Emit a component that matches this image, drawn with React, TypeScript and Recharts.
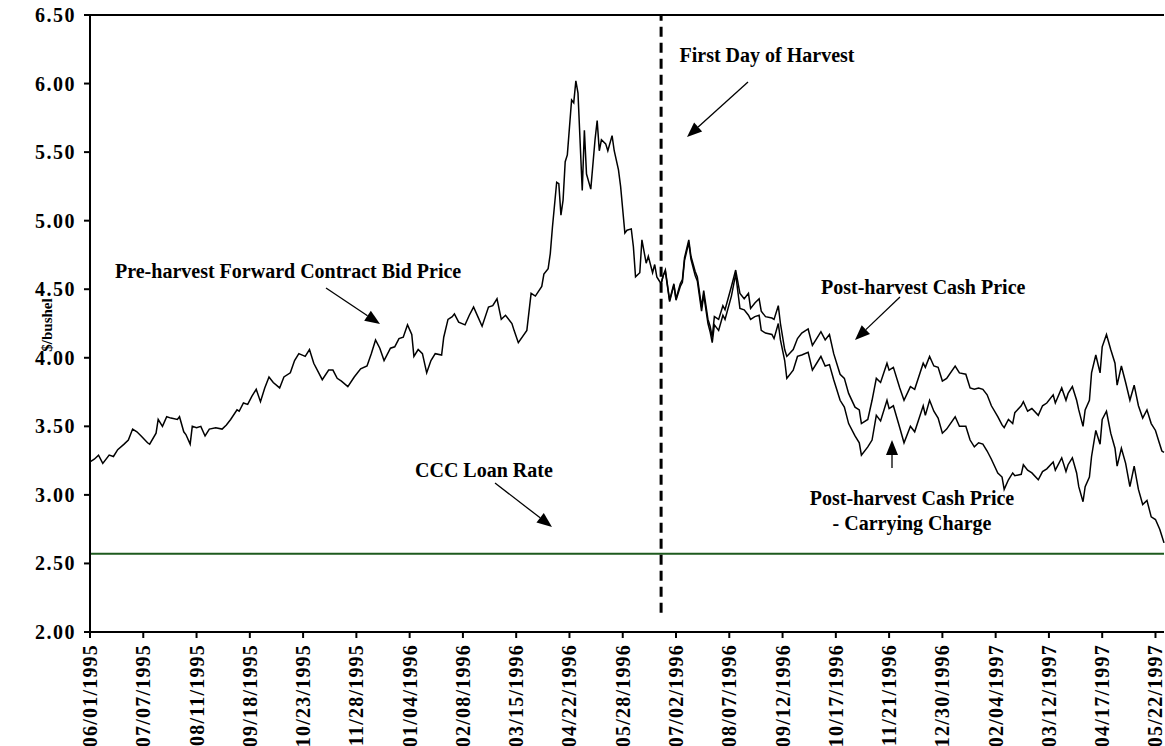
import { LineChart, Line, XAxis, YAxis, ReferenceLine } from 'recharts';

// trading-day index (0 = 06/01/1995), one tick label every 25 trading days
const tickLabels = [
    '06/01/1995', '07/07/1995', '08/11/1995', '09/18/1995', '10/23/1995', '11/28/1995',
    '01/04/1996', '02/08/1996', '03/15/1996', '04/22/1996', '05/28/1996', '07/02/1996',
    '08/07/1996', '09/12/1996', '10/17/1996', '11/21/1996', '12/30/1996', '02/04/1997',
    '03/12/1997', '04/17/1997', '05/22/1997',
];
const yTicks = [2, 2.5, 3, 3.5, 4, 4.5, 5, 5.5, 6, 6.5];

const loanRate = 2.57;
const harvestDay = 268;

// pre-harvest forward contract bid price
const preDay = [
    0, 2, 4, 6, 9, 11, 13, 16, 18, 20, 22, 24, 27, 28, 31, 32, 34, 36, 38, 41, 42, 44, 45, 47, 48,
    50, 52, 54, 56, 59, 62, 64, 66, 69, 70, 72, 74, 76, 78, 80, 82, 84, 86, 89, 91, 94, 96, 98,
    101, 103, 105, 109, 112, 114, 116, 118, 121, 124, 127, 130, 132, 134, 136, 138, 141, 143, 145,
    147, 149, 151, 152, 154, 156, 158, 160, 162, 165, 166, 168, 170, 171, 173, 176, 178, 180, 182,
    184, 187, 189, 191, 193, 195, 198, 199, 201, 205, 207, 209, 212, 213, 215, 216, 217, 219, 220,
    221, 222, 223, 224, 226, 227, 228, 229, 231, 232, 233, 235, 237, 238, 239, 240, 242, 243, 245,
    246, 248, 249, 250, 251, 252, 254, 255, 256, 258, 259, 261, 262, 264, 265, 266, 268,
];
const prePrice = [
    3.24, 3.26, 3.29, 3.23, 3.29, 3.28, 3.33, 3.37, 3.40, 3.48, 3.46, 3.43, 3.38, 3.37, 3.45, 3.55, 3.50, 3.57, 3.56, 3.55, 3.57, 3.46, 3.44, 3.37, 3.50,
    3.49, 3.50, 3.43, 3.48, 3.49, 3.48, 3.51, 3.55, 3.62, 3.61, 3.67, 3.66, 3.72, 3.77, 3.68, 3.78, 3.86, 3.82, 3.78, 3.86, 3.89, 3.98, 4.03,
    4.01, 4.06, 3.96, 3.84, 3.91, 3.91, 3.85, 3.83, 3.79, 3.86, 3.92, 3.94, 4.03, 4.13, 4.07, 3.98, 4.07, 4.08, 4.14,
    4.15, 4.24, 4.17, 4.01, 4.06, 4.03, 3.89, 3.98, 4.03, 4.02, 4.15, 4.28, 4.30, 4.32, 4.26, 4.24, 4.31, 4.37, 4.30,
    4.23, 4.37, 4.38, 4.43, 4.28, 4.31, 4.25, 4.20, 4.11, 4.20, 4.47, 4.45, 4.52, 4.61, 4.65, 4.76, 4.95, 5.28, 5.27,
    5.04, 5.15, 5.43, 5.48, 5.88, 5.86, 6.02, 5.93, 5.22, 5.66, 5.34, 5.23, 5.59, 5.73, 5.51, 5.59, 5.56, 5.51, 5.62,
    5.51, 5.37, 5.25, 5.08, 4.91, 4.93, 4.94, 4.81, 4.59, 4.62, 4.86, 4.69, 4.74, 4.62, 4.68, 4.59, 4.54,
];

// post-harvest cash price and cash price minus carrying charge
const postDay = [
    268, 269, 270, 272, 274, 275, 277, 278, 279, 281, 282, 284, 285, 287, 288, 290, 291, 292,
    293, 295, 297, 298, 301, 303, 305, 307, 309, 310, 312, 314, 315, 317, 320, 321, 323, 324,
    326, 327, 330, 332, 334, 337, 339, 341, 343, 345, 347, 349, 352, 354, 356, 359, 361, 362,
    365, 367, 369, 371, 374, 375, 377, 380, 382, 385, 387, 391, 392, 394, 396, 398, 400, 402,
    406, 408, 411, 413, 415, 417, 419, 421, 423, 426, 428, 429, 431, 433, 434, 437, 438, 440,
    442, 445, 447, 449, 452, 453, 456, 458, 459, 461, 463, 464, 466, 467, 469, 470, 472, 474,
    475, 477, 479, 481, 482, 484, 486, 488, 490, 492, 494, 496, 498, 500, 502, 503, 504,
];
const postCash = [
    4.54, 4.60, 4.64, 4.42, 4.54, 4.43, 4.54, 4.57, 4.73, 4.86, 4.74, 4.63, 4.59, 4.37, 4.49, 4.28, 4.23, 4.15,
    4.30, 4.28, 4.38, 4.35, 4.52, 4.64, 4.47, 4.43, 4.47, 4.36, 4.40, 4.43, 4.34, 4.30, 4.29, 4.28, 4.38, 4.25,
    4.06, 4.01, 4.06, 4.14, 4.18, 4.21, 4.09, 4.14, 4.19, 4.13, 4.17, 4.03, 3.88, 3.85, 3.74, 3.64, 3.62, 3.52,
    3.55, 3.69, 3.85, 3.82, 3.96, 3.91, 3.93, 3.78, 3.69, 3.79, 3.77, 3.96, 3.93, 4.01, 3.94, 3.93, 3.83, 3.85,
    3.94, 3.89, 3.88, 3.78, 3.77, 3.78, 3.77, 3.73, 3.65, 3.57, 3.51, 3.49, 3.55, 3.52, 3.60, 3.65, 3.68, 3.61,
    3.63, 3.58, 3.65, 3.67, 3.73, 3.67, 3.78, 3.69, 3.74, 3.79, 3.69, 3.62, 3.50, 3.62, 3.69, 3.89, 4.02, 3.89,
    4.08, 4.17, 4.06, 3.96, 3.80, 3.94, 3.82, 3.69, 3.80, 3.65, 3.56, 3.62, 3.52, 3.47, 3.37, 3.32, 3.31,
];
const postNet = [
    4.54, 4.60, 4.63, 4.41, 4.53, 4.42, 4.52, 4.55, 4.71, 4.84, 4.72, 4.60, 4.56, 4.34, 4.46, 4.25, 4.19, 4.11,
    4.24, 4.20, 4.31, 4.28, 4.45, 4.61, 4.36, 4.35, 4.31, 4.28, 4.30, 4.31, 4.20, 4.18, 4.17, 4.14, 4.25, 4.13,
    3.98, 3.85, 3.91, 4.01, 4.02, 4.04, 3.91, 3.96, 4.01, 3.94, 3.95, 3.84, 3.69, 3.64, 3.52, 3.43, 3.38, 3.29,
    3.35, 3.40, 3.58, 3.54, 3.69, 3.63, 3.65, 3.49, 3.38, 3.50, 3.46, 3.65, 3.58, 3.69, 3.61, 3.56, 3.45, 3.48,
    3.57, 3.50, 3.50, 3.40, 3.35, 3.38, 3.37, 3.32, 3.26, 3.16, 3.13, 3.04, 3.11, 3.16, 3.14, 3.15, 3.22, 3.18,
    3.16, 3.11, 3.17, 3.19, 3.24, 3.18, 3.27, 3.17, 3.22, 3.27, 3.16, 3.06, 2.95, 3.06, 3.13, 3.28, 3.47, 3.37,
    3.55, 3.61, 3.45, 3.34, 3.21, 3.34, 3.23, 3.06, 3.21, 3.04, 2.93, 2.96, 2.84, 2.82, 2.75, 2.70, 2.65,
];

const preData = preDay.map((d, i) => ({ day: d, price: prePrice[i] }));
const cashData = postDay.map((d, i) => ({ day: d, price: postCash[i] }));
const netData = postDay.map((d, i) => ({ day: d, price: postNet[i] }));

const font = '"Liberation Serif", "Times New Roman", serif';

const DateTick = (props: any) => {
    const { x, y, payload } = props;
    const ty = y + 4;
    return (
        <text
            x={x}
            y={ty}
            transform={`rotate(-90, ${x}, ${ty})`}
            textAnchor="end"
            dy="0.35em"
            fontFamily={font}
            fontWeight="bold"
            fontSize={20}
            letterSpacing={1.2}
            fill="#000"
        >
            {tickLabels[Math.round(payload.value / 25)]}
        </text>
    );
};

const PriceTick = (props: any) => {
    const { x, y, payload } = props;
    return (
        <text
            x={x}
            y={y}
            textAnchor="end"
            dy="0.35em"
            fontFamily={font}
            fontWeight="bold"
            fontSize={20}
            letterSpacing={1.5}
            fill="#000"
        >
            {payload.value.toFixed(2)}
        </text>
    );
};

const Arrow = ({ x1, y1, x2, y2 }: { x1: number; y1: number; x2: number; y2: number }) => {
    const a = Math.atan2(y2 - y1, x2 - x1);
    const len = 15;
    const w = 6;
    const bx = x2 - len * Math.cos(a);
    const by = y2 - len * Math.sin(a);
    const px = -Math.sin(a) * w;
    const py = Math.cos(a) * w;
    return (
        <g>
            <line x1={x1} y1={y1} x2={bx} y2={by} stroke="#000" strokeWidth={1.3} />
            <polygon points={`${x2},${y2} ${bx + px},${by + py} ${bx - px},${by - py}`} fill="#000" />
        </g>
    );
};

export default function App() {
    return (
        <div style={{ position: 'absolute', left: 0, top: 0, width: 1165, height: 746, background: '#fff' }}>
            <LineChart
                width={1165}
                height={746}
                margin={{ top: 15, right: 1, bottom: 0, left: 0 }}
            >
                <XAxis
                    type="number"
                    dataKey="day"
                    domain={[0, 504]}
                    ticks={tickLabels.map((_, i) => i * 25)}
                    tick={<DateTick />}
                    tickSize={6}
                    height={114}
                    stroke="#000"
                    strokeWidth={2}
                    interval={0}
                    allowDuplicatedCategory={false}
                />
                <YAxis
                    type="number"
                    domain={[2, 6.5]}
                    ticks={yTicks}
                    width={90}
                    tickSize={6}
                    tickMargin={8}
                    stroke="#000"
                    strokeWidth={2}
                    tick={<PriceTick />}
                    interval={0}
                />
                <ReferenceLine y={6.5} stroke="#000" strokeWidth={2} />
                <ReferenceLine y={loanRate} stroke="#1e5a1e" strokeWidth={2} />
                <ReferenceLine
                    segment={[{ x: harvestDay, y: 2.14 }, { x: harvestDay, y: 6.5 }]}
                    stroke="#000"
                    strokeWidth={3}
                    strokeDasharray="10 6"
                />
                <Line data={preData} dataKey="price" stroke="#000" strokeWidth={1.5} dot={false} isAnimationActive={false} />
                <Line data={cashData} dataKey="price" stroke="#000" strokeWidth={1.5} dot={false} isAnimationActive={false} />
                <Line data={netData} dataKey="price" stroke="#000" strokeWidth={1.5} dot={false} isAnimationActive={false} />
            </LineChart>
            <svg
                width={1165}
                height={746}
                style={{ position: 'absolute', left: 0, top: 0, pointerEvents: 'none' }}
                fontFamily={font}
                fontWeight="bold"
                fontSize={20}
            >
                <text x={47} y={325} transform="rotate(-90, 47, 325)" textAnchor="middle" fontSize={15} dy="0.35em">
                    $/bushel
                </text>
                <text x={767} y={62} textAnchor="middle">First Day of Harvest</text>
                <Arrow x1={748} y1={82} x2={687} y2={137} />
                <text x={115} y={278}>Pre-harvest Forward Contract Bid Price</text>
                <Arrow x1={326} y1={288} x2={380} y2={324} />
                <text x={821} y={294}>Post-harvest Cash Price</text>
                <Arrow x1={900} y1={297} x2={855} y2={340} />
                <text x={415} y={477}>CCC Loan Rate</text>
                <Arrow x1={495} y1={483} x2={552} y2={527} />
                <text x={912} y={505} textAnchor="middle">Post-harvest Cash Price</text>
                <text x={912} y={530} textAnchor="middle">- Carrying Charge</text>
                <Arrow x1={892} y1={468} x2={892} y2={440} />
            </svg>
        </div>
    );
}
